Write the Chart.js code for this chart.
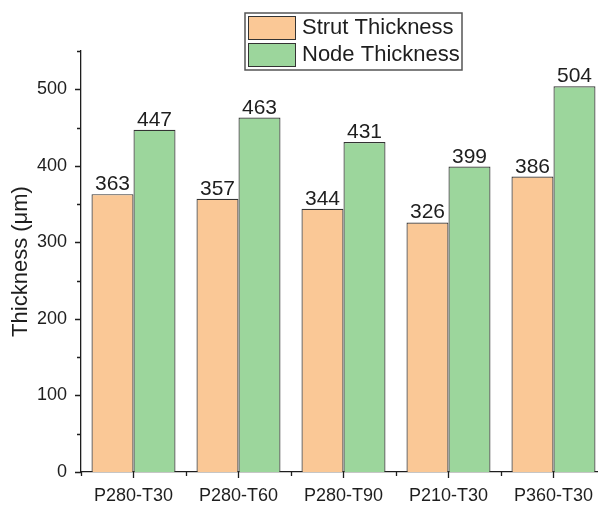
<!DOCTYPE html>
<html>
<head>
<meta charset="utf-8">
<script src="https://cdn.jsdelivr.net/npm/chart.js@4"></script>
<style>
  html, body { margin: 0; padding: 0; background: #fff; overflow: hidden; }
  #wrap { width: 606px; height: 505px; }
</style>
</head>
<body>
<div id="wrap"><canvas id="chartThk" width="606" height="505"></canvas></div>
<script>
const categories = ['P280-T30', 'P280-T60', 'P280-T90', 'P210-T30', 'P360-T30']
const strutThickness = [363, 357, 344, 326, 386]
const nodeThickness = [447, 463, 431, 399, 504]

const FONT = '"Liberation Sans", Arial, sans-serif'
const INK = '#1e1e1e'

// minor/major tick marks, Origin style (outward)
const tickMarks = {
  id: 'tickMarks',
  afterDraw(chart) {
    const c = chart.ctx
    const x = chart.scales.x
    const y = chart.scales.y
    c.save()
    c.strokeStyle = INK
    c.lineWidth = 1.3
    c.beginPath()
    for (let v = 0; v <= 550; v += 50) {
      const py = Math.round(y.getPixelForValue(v)) + 0.5
      const len = v % 100 === 0 ? 6 : 4
      c.moveTo(x.left - len, py)
      c.lineTo(x.left, py)
    }
    const half = (x.getPixelForValue(1) - x.getPixelForValue(0)) / 2
    categories.forEach((cat, i) => {
      const px = Math.round(x.getPixelForValue(i)) + 0.5
      c.moveTo(px, y.bottom)
      c.lineTo(px, y.bottom + 6)
      const bx = Math.round(x.getPixelForValue(i) - half) + 0.5
      c.moveTo(bx, y.bottom)
      c.lineTo(bx, y.bottom + 4)
    })
    c.stroke()
    c.restore()
  }
}

// numbers above bars
const barValues = {
  id: 'barValues',
  afterDatasetsDraw(chart) {
    const c = chart.ctx
    c.save()
    c.font = '21px ' + FONT
    c.fillStyle = INK
    c.textAlign = 'center'
    c.textBaseline = 'alphabetic'
    chart.data.datasets.forEach((ds, di) => {
      chart.getDatasetMeta(di).data.forEach((bar, i) => {
        c.fillText(ds.data[i], bar.x, bar.y - 4)
      })
    })
    c.restore()
  }
}

// boxed legend like the original
const boxLegend = {
  id: 'boxLegend',
  afterDraw(chart) {
    const c = chart.ctx
    c.save()
    c.strokeStyle = '#555'
    c.lineWidth = 1.5
    c.strokeRect(245, 13, 217, 57)
    c.font = '22px ' + FONT
    c.textBaseline = 'middle'
    c.textAlign = 'left'
    chart.data.datasets.forEach((ds, i) => {
      const top = 16 + i * 27
      c.fillStyle = ds.backgroundColor
      c.fillRect(248, top, 48, 24)
      c.lineWidth = 1
      c.strokeStyle = '#333'
      c.strokeRect(248.5, top + 0.5, 47, 23)
      c.fillStyle = INK
      c.fillText(ds.label, 302, top + 12)
    })
    c.restore()
  }
}

const chartThk = new Chart(document.getElementById('chartThk'), {
  type: 'bar',
  data: {
    labels: categories,
    datasets: [{
      label: 'Strut Thickness',
      data: strutThickness,
      backgroundColor: '#fac896',
      borderColor: '#333',
      borderWidth: 1.2,
      categoryPercentage: 0.8,
      barPercentage: 1.0
    },
    {
      label: 'Node Thickness',
      data: nodeThickness,
      backgroundColor: '#9cd69c',
      borderColor: '#333',
      borderWidth: 1.2,
      categoryPercentage: 0.8,
      barPercentage: 1.0
    }]
  },
  options: {
    responsive: false,
    animation: false,
    layout: { padding: { top: 51, left: 0, right: 0, bottom: 0 } },
    plugins: {
      legend: { display: false },
      tooltip: { enabled: false }
    },
    scales: {
      x: {
        grid: { display: false, drawTicks: false },
        border: { display: true, color: INK, width: 1.3 },
        ticks: { color: INK, font: { family: FONT, size: 18 }, padding: 13, maxRotation: 0 },
        afterFit: (s) => { s.height = 33 }
      },
      y: {
        min: 0,
        max: 550,
        grid: { display: false, drawTicks: false },
        border: { display: true, color: INK, width: 1.3 },
        ticks: {
          stepSize: 50,
          color: INK,
          padding: 14,
          font: { family: FONT, size: 18 },
          callback: (v) => (v % 100 === 0 && v <= 500 ? v : '')
        },
        title: {
          display: true,
          text: 'Thickness (μm)',
          color: INK,
          font: { family: FONT, size: 22 },
          padding: { top: 8, bottom: 0 }
        },
        afterFit: (s) => { s.width = 81 }
      }
    }
  },
  plugins: [tickMarks, barValues, boxLegend]
});
</script>
</body>
</html>
